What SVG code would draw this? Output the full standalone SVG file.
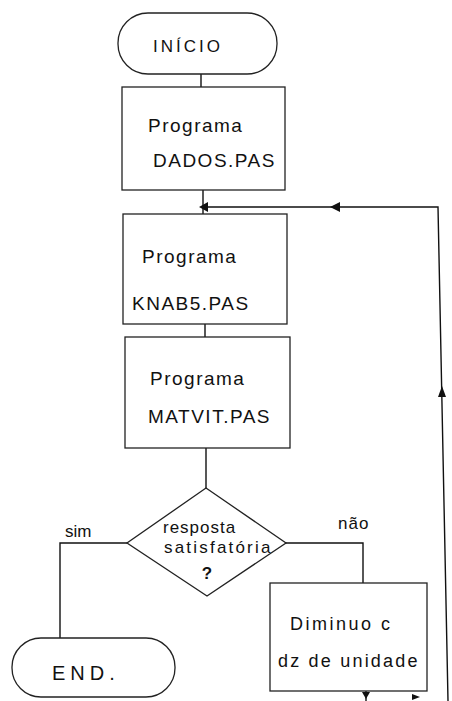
<svg xmlns="http://www.w3.org/2000/svg" width="452" height="701" viewBox="0 0 452 701">
<defs>
<style>
.n{fill:#fff;stroke:#222;stroke-width:1.3}
.c{fill:none;stroke:#111;stroke-width:1.4}
.t{font-family:"Liberation Sans",Arial,sans-serif;fill:#111}
.b{font-size:19px;letter-spacing:1.5px}
.d{font-size:17px}
.a{fill:#111}
</style>
</defs>
<rect width="452" height="701" fill="#fff"/>
<g id="connectors">
<path class="c" d="M201 74 V87"/>
<path class="c" d="M203 190 V214"/>
<path class="c" d="M203 207 H438 L448 701"/>
<path class="c" d="M205 324 V337"/>
<path class="c" d="M206 448 V488"/>
<path class="c" d="M127 543 H60 V638"/>
<path class="c" d="M286 543 H363 V583"/>
<path class="c" d="M366 691 V701"/>
<polygon class="a" points="199,207 208,202 208,212"/>
<polygon class="a" points="330,207 340,202 340,212"/>
<polygon class="a" points="442,386 438,397 446,397"/>
<polygon class="a" points="366,699 362,692 370,692"/>
<polygon class="a" points="420,697 412,694 412,700"/>
</g>
<g id="inicio">
<rect class="n" x="118" y="13" width="159" height="61" rx="30"/>
<text class="t" x="153" y="52" font-size="17" letter-spacing="3">INÍCIO</text>
</g>
<g id="dados">
<rect class="n" x="122" y="87" width="163" height="103"/>
<text class="t b" x="148" y="132">Programa</text>
<text class="t b" x="153" y="167">DADOS.PAS</text>
</g>
<g id="knab5">
<rect class="n" x="123" y="214" width="164" height="110"/>
<text class="t b" x="142" y="263">Programa</text>
<text class="t b" x="132" y="310">KNAB5.PAS</text>
</g>
<g id="matvit">
<rect class="n" x="125" y="337" width="165" height="111"/>
<text class="t b" x="150" y="385">Programa</text>
<text class="t b" x="148" y="423">MATVIT.PAS</text>
</g>
<g id="decisao">
<polygon class="n" points="206,488 286,543 207,596 127,543"/>
<text class="t d" x="163" y="533" letter-spacing="1">resposta</text>
<text class="t d" x="164" y="553" letter-spacing="2.2">satisfatória</text>
<text class="t" x="207" y="579" font-size="17" font-weight="bold" text-anchor="middle">?</text>
<text class="t d" x="65" y="537">sim</text>
<text class="t d" x="338" y="529" letter-spacing="1">não</text>
</g>
<g id="end">
<rect class="n" x="12" y="638" width="163" height="59" rx="29"/>
<text class="t" x="52" y="680" font-size="20" letter-spacing="5">END.</text>
</g>
<g id="diminuo">
<rect class="n" x="270" y="583" width="157" height="108"/>
<text class="t" x="290" y="630" font-size="18" letter-spacing="2.5">Diminuo  c</text>
<text class="t" x="278" y="667" font-size="18" letter-spacing="2.2">dz de unidade</text>
</g>
</svg>
